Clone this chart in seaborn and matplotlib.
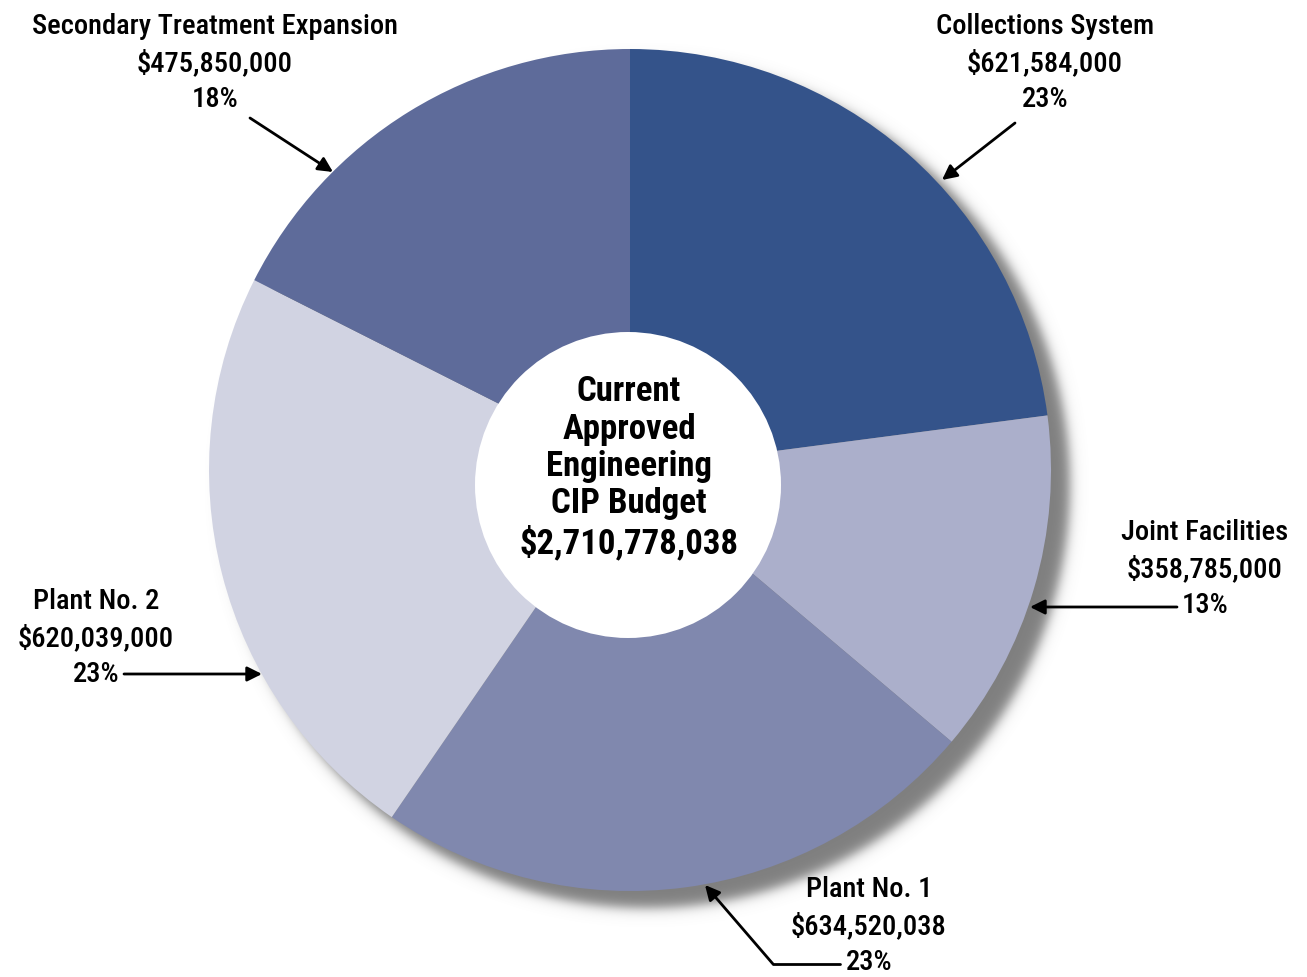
import numpy as np
import matplotlib
matplotlib.use("Agg")
import matplotlib.pyplot as plt
from matplotlib import font_manager
from matplotlib.patches import Circle
import seaborn as sns

# Engineering CIP budget by program
categories = ["Collections System", "Joint Facilities", "Plant No. 1",
              "Plant No. 2", "Secondary Treatment Expansion"]
budgets = [621584000, 358785000, 634520038, 620039000, 475850000]
percent_labels = ["23%", "13%", "23%", "23%", "18%"]
total_label = "$2,710,778,038"
center_title = "Current\nApproved\nEngineering\nCIP Budget"
colors = ["#34538A", "#ABAFCB", "#8088AE", "#D1D3E2", "#5E6B9A"]

sns.set_theme(style="white")

names = {f.name for f in font_manager.fontManager.ttflist}
FAMILY = "DejaVu Sans"
for cand in ["Roboto Condensed", "IBM Plex Sans Condensed",
             "Open Sans Condensed", "Liberation Sans Narrow"]:
    if cand in names:
        FAMILY = cand
        break

W, H = 1307, 977
fig = plt.figure(figsize=(W / 100, H / 100), dpi=100)
ax = fig.add_axes([0, 0, 1, 1])


def Y(y):
    # convert top-down pixel rows to axes units
    return H - y


cx, cy, R = 630, 470, 421

# soft drop shadow behind the pie
gx, gy = np.meshgrid(np.arange(W) + 0.5, np.arange(H) + 0.5)
d = np.hypot(gx - (cx + 17), gy - (cy + 15))
alpha = 1.0 / (1 + np.exp((d - R - 2) / 3.5))
shadow = np.zeros((H, W, 4))
shadow[..., :3] = 0.5
shadow[..., 3] = alpha
ax.imshow(shadow, extent=(0, W, 0, H), origin="upper", zorder=1,
          interpolation="bilinear")

ax.pie(budgets, colors=colors, startangle=90, counterclock=False,
       center=(cx, Y(cy)), radius=R, frame=True,
       wedgeprops=dict(linewidth=0, edgecolor="none", zorder=2))
ax.set_xlim(0, W)
ax.set_ylim(0, H)
ax.set_aspect("equal")
ax.axis("off")

ax.add_patch(Circle((628, Y(485)), 153, facecolor="white",
                    edgecolor="none", zorder=3))
ax.text(629, Y(468), center_title + "\n" + total_label, ha="center",
        va="center", fontsize=25, fontweight="bold", color="black",
        linespacing=1.17, zorder=4, family=FAMILY)

LS = 1.42
lab_fs = 20.5


def label(i, x, y, ha="center"):
    money = "${:,}".format(budgets[i])
    ax.text(x, Y(y), f"{categories[i]}\n{money}\n{percent_labels[i]}",
            ha=ha, va="center", fontsize=lab_fs, linespacing=LS,
            fontweight="medium", color="black", zorder=5, family=FAMILY)


def arrow(x0, y0, x1, y1):
    ax.annotate("", xy=(x1, Y(y1)), xytext=(x0, Y(y0)), zorder=6,
                arrowprops=dict(arrowstyle="-|>", color="black", lw=2,
                                mutation_scale=22, shrinkA=0, shrinkB=0))


label(4, 215, 63)
arrow(250, 118, 333, 172)

label(0, 1045, 63)
arrow(1015, 123, 942, 180)

label(1, 1205, 569)
arrow(1177, 607, 1030, 607)

label(2, 869, 926)
ax.plot([840, 773], [Y(964), Y(964)], color="black", lw=2, zorder=6)
arrow(773, 964, 705, 885)

label(3, 96, 638)
arrow(124, 674, 262, 674)

fig.savefig("out.png", dpi=100)
